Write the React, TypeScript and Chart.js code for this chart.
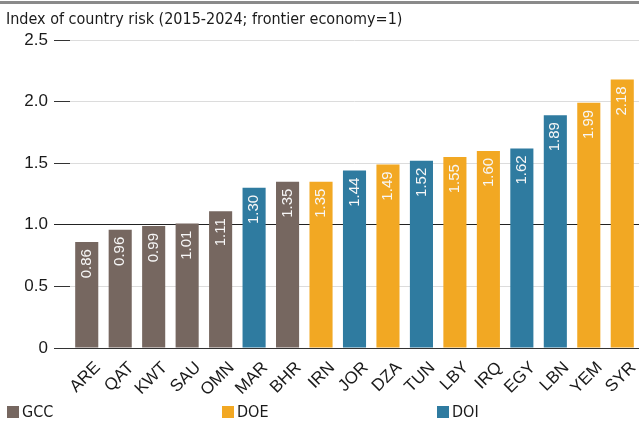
import React, { useEffect, useRef } from "react";
import { Chart, registerables } from "chart.js";

Chart.register(...registerables);

const categories = ["ARE", "QAT", "KWT", "SAU", "OMN", "MAR", "BHR", "IRN", "JOR", "DZA", "TUN", "LBY", "IRQ", "EGY", "LBN", "YEM", "SYR"];
const values = [0.86, 0.96, 0.99, 1.01, 1.11, 1.3, 1.35, 1.35, 1.44, 1.49, 1.52, 1.55, 1.6, 1.62, 1.89, 1.99, 2.18];
const groups = ["GCC", "GCC", "GCC", "GCC", "GCC", "DOI", "GCC", "DOE", "DOI", "DOE", "DOI", "DOE", "DOE", "DOI", "DOI", "DOE", "DOE"];
const legendItems = ["GCC", "DOE", "DOI"];
const yTicks = [0, 0.5, 1.0, 1.5, 2.0, 2.5];
const titleText = "Index of country risk (2015-2024; frontier economy=1)";

const groupColors: Record<string, string> = {
  GCC: "#766760",
  DOE: "#F2A823",
  DOI: "#2F7BA0",
};

const condensed = "'Liberation Sans Narrow', 'DejaVu Sans Condensed', 'Roboto Condensed', sans-serif";

const barLabelPlugin = {
  id: "barLabels",
  afterDatasetsDraw(chart: any) {
    const { ctx } = chart;
    const meta = chart.getDatasetMeta(0);
    const bottom = chart.chartArea.bottom;
    ctx.save();
    meta.data.forEach((bar: any, i: number) => {
      // value label inside bar
      ctx.save();
      ctx.fillStyle = "#f7f7f7";
      ctx.font = "15px 'Liberation Sans', Arial, sans-serif";
      ctx.textAlign = "right";
      ctx.textBaseline = "middle";
      ctx.translate(bar.x, bar.y + 7);
      ctx.rotate(-Math.PI / 2);
      ctx.fillText(values[i].toFixed(2), 0, 0);
      ctx.restore();
      // category label below axis
      ctx.save();
      ctx.fillStyle = "#1a1a1a";
      ctx.font = "17px 'Liberation Sans', Arial, sans-serif";
      ctx.textAlign = "right";
      ctx.textBaseline = "middle";
      ctx.translate(bar.x + 11, bottom + 17);
      ctx.rotate(-Math.PI / 4);
      ctx.fillText(categories[i], 0, 0);
      ctx.restore();
    });
    ctx.restore();
  },
};

export default function App() {
  const canvasRef = useRef<HTMLCanvasElement | null>(null);

  useEffect(() => {
    if (!canvasRef.current) return;
    const chart = new Chart(canvasRef.current, {
      type: "bar",
      data: {
        labels: categories,
        datasets: [
          {
            data: values,
            backgroundColor: groups.map((g) => groupColors[g]),
            barPercentage: 0.69,
            categoryPercentage: 1,
          },
        ],
      },
      options: {
        animation: false,
        responsive: false,
        maintainAspectRatio: false,
        layout: { padding: { top: 40, right: 0, bottom: 0, left: 0 } },
        plugins: {
          legend: { display: false },
          title: { display: false },
          tooltip: { enabled: false },
        },
        scales: {
          x: {
            grid: { display: false },
            border: { display: true, color: "#333", width: 1 },
            ticks: { display: false },
            afterFit(scale: any) {
              scale.height = 75;
            },
          },
          y: {
            min: 0,
            max: 2.5,
            afterBuildTicks(scale: any) {
              scale.ticks = yTicks.map((v) => ({ value: v }));
            },
            border: { display: false },
            grid: {
              color: (c: any) => (c.tick && (c.tick.value === 1 || c.tick.value === 0) ? "#222" : "#dcdcdc"),
              tickColor: (c: any) => (c.tick && c.tick.value === 1 ? "#222" : "#333"),
              tickLength: 16,
              lineWidth: 1,
            },
            ticks: {
              color: "#1a1a1a",
              padding: 6,
              font: { family: "'Liberation Sans', Arial, sans-serif", size: 17 },
              callback: (v: any) => (v === 0 ? "0" : Number(v).toFixed(1)),
            },
            afterFit(scale: any) {
              scale.width = 70;
            },
          },
        },
      },
      plugins: [barLabelPlugin],
    } as any);
    return () => chart.destroy();
  }, []);

  const legendLefts = [7, 222, 437];

  return (
    <div style={{ position: "absolute", left: 0, top: 0, width: 639, height: 423, background: "#fff", overflow: "hidden" }}>
      <canvas ref={canvasRef} width={639} height={423} style={{ position: "absolute", left: 0, top: 0 }} />
      <div style={{ position: "absolute", left: 0, top: 1, width: 639, height: 3, background: "#8a8a8a" }} />
      <div
        style={{
          position: "absolute",
          left: 6,
          top: 9,
          fontFamily: condensed,
          fontSize: 16,
          color: "#1a1a1a",
          whiteSpace: "nowrap",
          lineHeight: "20px",
        }}
      >
        {titleText}
      </div>
      {legendItems.map((g, i) => (
        <div
          key={g}
          style={{
            position: "absolute",
            left: legendLefts[i],
            top: 404,
            display: "flex",
            alignItems: "center",
            fontFamily: condensed,
            fontSize: 16,
            color: "#1a1a1a",
            lineHeight: "16px",
          }}
        >
          <span style={{ display: "inline-block", width: 12, height: 12, background: groupColors[g], marginRight: 3 }} />
          <span>{g}</span>
        </div>
      ))}
    </div>
  );
}
